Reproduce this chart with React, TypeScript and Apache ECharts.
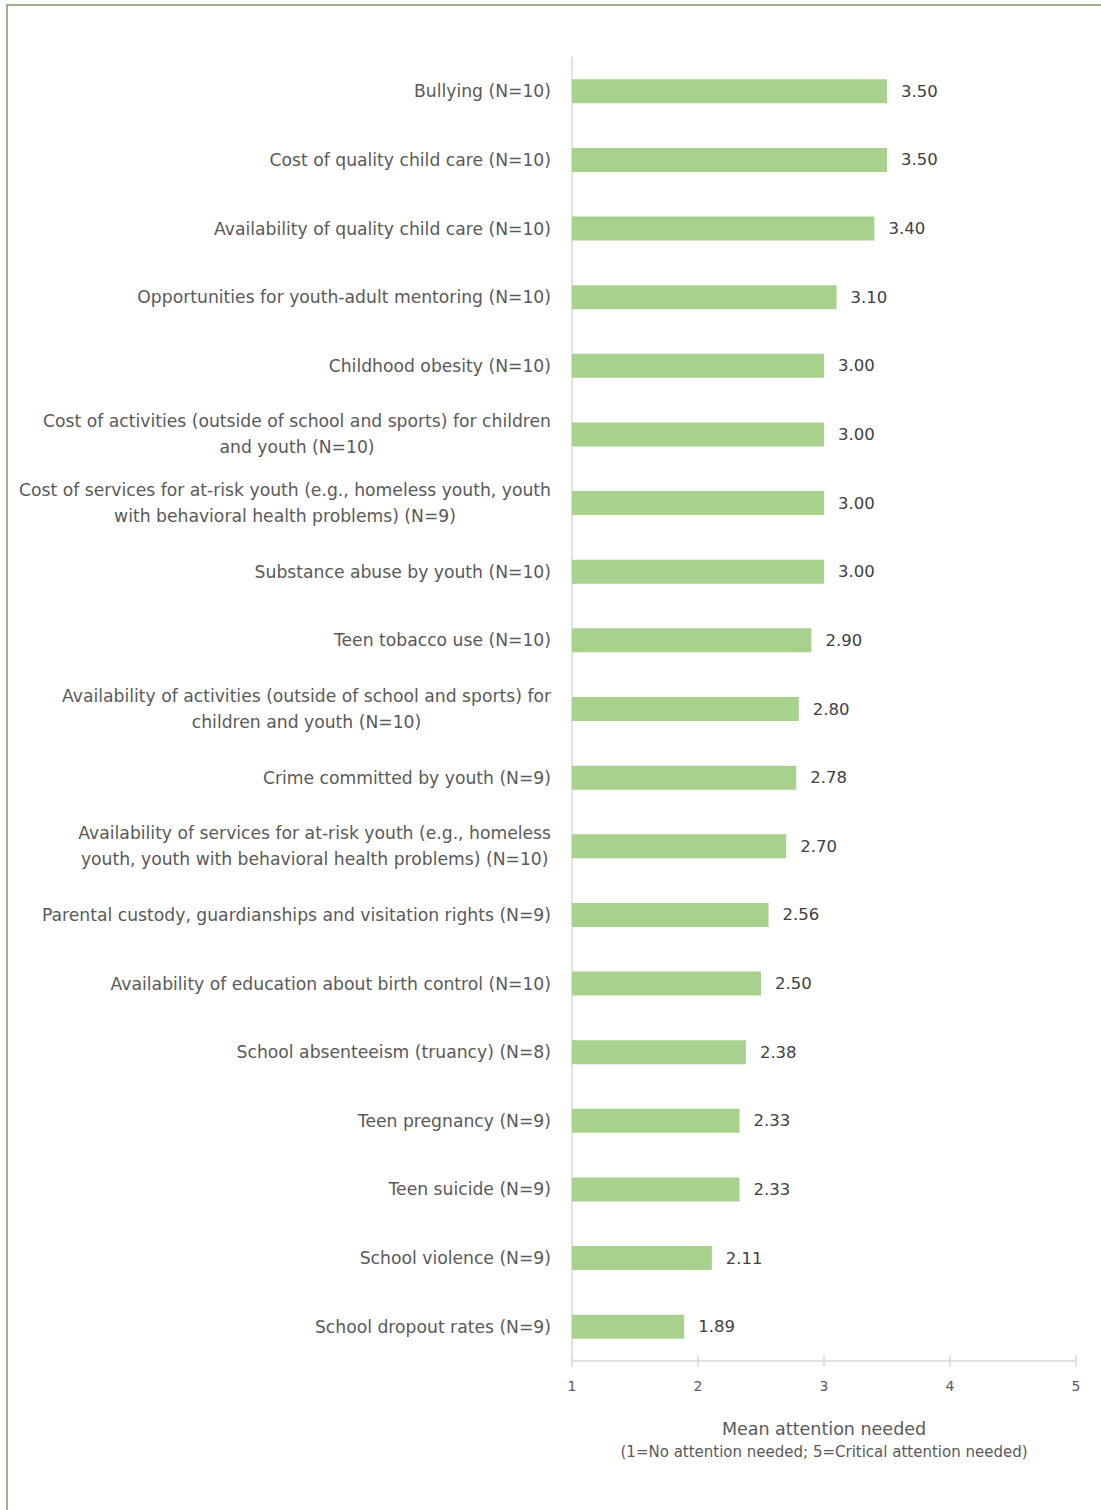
import React, { useEffect, useRef } from "react";
import * as echarts from "echarts";

const categories: string[] = [
  "Bullying (N=10)",
  "Cost of quality child care (N=10)",
  "Availability of quality child care (N=10)",
  "Opportunities for youth-adult mentoring (N=10)",
  "Childhood obesity (N=10)",
  "Cost of activities (outside of school and sports) for children\nand youth (N=10)",
  "Cost of services for at-risk youth (e.g., homeless youth, youth\nwith behavioral health problems) (N=9)",
  "Substance abuse by youth (N=10)",
  "Teen tobacco use (N=10)",
  "Availability of activities (outside of school and sports) for\nchildren and youth (N=10)",
  "Crime committed by youth (N=9)",
  "Availability of services for at-risk youth (e.g., homeless\nyouth, youth with behavioral health problems) (N=10)",
  "Parental custody, guardianships and visitation rights (N=9)",
  "Availability of education about birth control (N=10)",
  "School absenteeism (truancy) (N=8)",
  "Teen pregnancy (N=9)",
  "Teen suicide (N=9)",
  "School violence (N=9)",
  "School dropout rates (N=9)",
];

const values: number[] = [
  3.5, 3.5, 3.4, 3.1, 3.0, 3.0, 3.0, 3.0, 2.9, 2.8, 2.78, 2.7, 2.56, 2.5, 2.38, 2.33, 2.33, 2.11, 1.89,
];

const xTicks: number[] = [1, 2, 3, 4, 5];

const FONT = "'DejaVu Sans', 'Noto Sans', sans-serif";

export default function App() {
  const ref = useRef<HTMLDivElement>(null);
  useEffect(() => {
    if (!ref.current) return;
    const chart = echarts.init(ref.current, undefined, { renderer: "svg" });
    chart.setOption({
      animation: false,
      backgroundColor: "#ffffff",
      graphic: [
        {
          type: "rect",
          shape: { x: 7, y: 5, width: 1300, height: 1700 },
          style: { fill: "none", stroke: "#9db28c", lineWidth: 2 },
          silent: true,
        },
      ],
      grid: { left: 572, right: 25, top: 57, bottom: 149, containLabel: false },
      xAxis: [
        {
          type: "value",
          min: xTicks[0],
          max: xTicks[xTicks.length - 1],
          interval: 1,
          position: "bottom",
          axisLine: { show: true, lineStyle: { color: "#d9d9d9", width: 1.5 } },
          axisTick: { show: true, length: 6, lineStyle: { color: "#d9d9d9", width: 1.5 } },
          splitLine: { show: false },
          axisLabel: {
            color: "#595959",
            fontFamily: FONT,
            fontSize: 14,
            margin: 18,
          },
          name: "{a|Mean attention needed}\n{b|(1=No attention needed; 5=Critical attention needed)}",
          nameLocation: "middle",
          nameGap: 56,
          nameTextStyle: {
            rich: {
              a: { fontFamily: FONT, fontSize: 17.5, color: "#595959", lineHeight: 24 },
              b: { fontFamily: FONT, fontSize: 15, color: "#595959", lineHeight: 21 },
            },
          },
        },
        {
          type: "value",
          min: xTicks[0],
          max: xTicks[xTicks.length - 1],
          interval: 1,
          position: "bottom",
          offset: 0,
          axisLine: { show: false },
          axisTick: { show: true, inside: true, length: 6, lineStyle: { color: "#d9d9d9", width: 1.5 } },
          axisLabel: { show: false },
          splitLine: { show: false },
        },
      ],
      yAxis: {
        type: "category",
        data: categories,
        inverse: true,
        axisLine: { show: true, lineStyle: { color: "#d9d9d9", width: 1.5 } },
        axisTick: { show: false },
        axisLabel: {
          color: "#595959",
          fontFamily: FONT,
          fontSize: 17.2,
          margin: 21,
          lineHeight: 26,
          formatter: (v: string) =>
            v
              .split("\n")
              .map((l) => "{c|" + l + "}")
              .join("\n"),
          rich: {
            c: { align: "center", fontFamily: FONT, fontSize: 17.2, color: "#595959", lineHeight: 26 },
          },
        },
      },
      series: [
        {
          type: "bar",
          xAxisIndex: 0,
          data: values,
          barWidth: 24,
          clip: true,
          itemStyle: { color: "#a9d18e" },
          label: {
            show: true,
            position: "right",
            distance: 14,
            color: "#404040",
            fontFamily: FONT,
            fontSize: 16.5,
            formatter: (p: any) => Number(p.value).toFixed(2),
          },
        },
      ],
    });
    return () => chart.dispose();
  }, []);
  return (
    <div
      ref={ref}
      style={{ position: "absolute", left: 0, top: 0, width: 1101, height: 1510 }}
    />
  );
}
